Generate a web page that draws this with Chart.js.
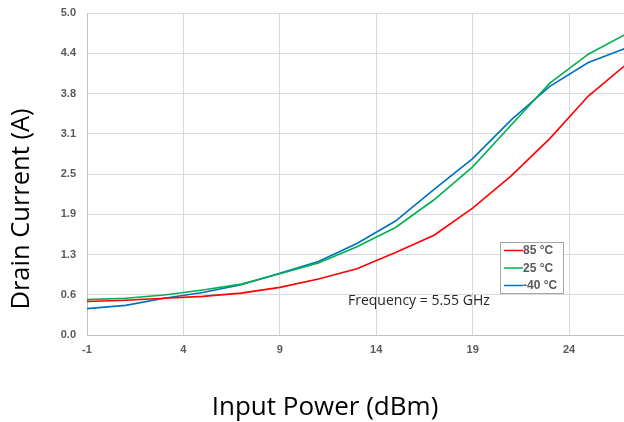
<!DOCTYPE html>
<html>
<head>
<meta charset="utf-8">
<script src="https://cdn.jsdelivr.net/npm/chart.js@4"></script>
<style>
  html, body { margin: 0; padding: 0; background: #fff; }
</style>
</head>
<body>
<canvas id="drainChart" width="624" height="422"></canvas>
<script>
// input power sweep (dBm)
const inputPower = [-1, 1, 3, 5, 7, 9, 11, 13, 15, 17, 19, 21, 23, 25, 27];
// drain current (A) per temperature
const current85 = [0.52, 0.54, 0.57, 0.60, 0.65, 0.74, 0.87, 1.03, 1.28, 1.55, 1.97, 2.47, 3.05, 3.71, 4.21];
const current25 = [0.55, 0.57, 0.62, 0.70, 0.79, 0.95, 1.12, 1.37, 1.67, 2.10, 2.61, 3.26, 3.91, 4.36, 4.68];
const currentM40 = [0.41, 0.46, 0.57, 0.66, 0.78, 0.96, 1.14, 1.42, 1.77, 2.26, 2.74, 3.34, 3.86, 4.23, 4.46];
const seriesNames = ['85 °C', '25 °C', '-40 °C'];
const seriesColors = ['#ff0000', '#00b050', '#0070c0'];

const xTicks = [-1, 4, 9, 14, 19, 24];
const yTicks = [0, 0.625, 1.25, 1.875, 2.5, 3.125, 3.75, 4.375, 5];
const yTickLabels = ['0.0', '0.6', '1.3', '1.9', '2.5', '3.1', '3.8', '4.4', '5.0'];

function toPoints(vals) {
  return inputPower.map((x, i) => ({ x: x, y: vals[i] }));
}

// legend box, note text and axis titles
const extras = {
  id: 'extras',
  afterDatasetsDraw(chart) {
    const ctx = chart.ctx;
    ctx.save();

    // legend
    ctx.fillStyle = '#ffffff';
    ctx.fillRect(500.5, 242.5, 63, 51);
    ctx.strokeStyle = '#a6a6a6';
    ctx.lineWidth = 1;
    ctx.strokeRect(500.5, 242.5, 63, 51);
    ctx.font = 'bold 12px "Liberation Sans", Arial, sans-serif';
    ctx.textBaseline = 'middle';
    ctx.textAlign = 'left';
    chart.data.datasets.forEach((ds, i) => {
      const y = 250.5 + i * 17.5;
      ctx.strokeStyle = ds.borderColor;
      ctx.lineWidth = 1.5;
      ctx.beginPath();
      ctx.moveTo(504, y);
      ctx.lineTo(523, y);
      ctx.stroke();
      ctx.fillStyle = '#595959';
      ctx.fillText(ds.label, 523, y + 0.5);
    });

    // frequency note
    ctx.fillStyle = '#262626';
    ctx.font = '14px "Open Sans", sans-serif';
    ctx.textBaseline = 'alphabetic';
    ctx.fillText('Frequency = 5.55 GHz', 348, 305);

    // axis titles
    ctx.fillStyle = '#000000';
    ctx.font = '26px "Open Sans", sans-serif';
    ctx.textAlign = 'center';
    ctx.fillText('Input Power (dBm)', 325, 415);

    ctx.translate(22, 209);
    ctx.rotate(-Math.PI / 2);
    ctx.font = '25.5px "Open Sans", sans-serif';
    ctx.textBaseline = 'middle';
    ctx.fillText('Drain Current (A)', 0, 0);

    ctx.restore();
  }
};

new Chart(document.getElementById('drainChart'), {
  type: 'line',
  data: {
    datasets: [
      { label: seriesNames[0], data: toPoints(current85), borderColor: seriesColors[0] },
      { label: seriesNames[1], data: toPoints(current25), borderColor: seriesColors[1] },
      { label: seriesNames[2], data: toPoints(currentM40), borderColor: seriesColors[2] }
    ]
  },
  options: {
    responsive: false,
    animation: false,
    layout: { padding: { top: 13, right: 0, left: 0, bottom: 0 } },
    elements: {
      line: { borderWidth: 1.6, tension: 0, fill: false },
      point: { radius: 0 }
    },
    plugins: {
      legend: { display: false },
      tooltip: { enabled: false }
    },
    scales: {
      x: {
        type: 'linear',
        min: -1,
        max: 26.85,
        afterBuildTicks: (scale) => { scale.ticks = xTicks.map(v => ({ value: v })); },
        afterFit: (scale) => { scale.height = 87; },
        grid: { color: '#d9d9d9', drawTicks: false },
        border: { color: '#bfbfbf' },
        ticks: {
          padding: 8,
          color: '#595959',
          font: { family: '"Liberation Sans", Arial, sans-serif', size: 11, weight: 'bold' }
        }
      },
      y: {
        min: 0,
        max: 5,
        afterBuildTicks: (scale) => { scale.ticks = yTicks.map(v => ({ value: v })); },
        afterFit: (scale) => {
          scale.width = 87;
          scale.paddingTop = 0;
          scale.paddingBottom = 0;
        },
        grid: { color: '#d9d9d9', drawTicks: false },
        border: { color: '#bfbfbf' },
        ticks: {
          padding: 11,
          color: '#595959',
          font: { family: '"Liberation Sans", Arial, sans-serif', size: 11, weight: 'bold' },
          callback: (v, i) => yTickLabels[i]
        }
      }
    }
  },
  plugins: [extras]
});
</script>
</body>
</html>
